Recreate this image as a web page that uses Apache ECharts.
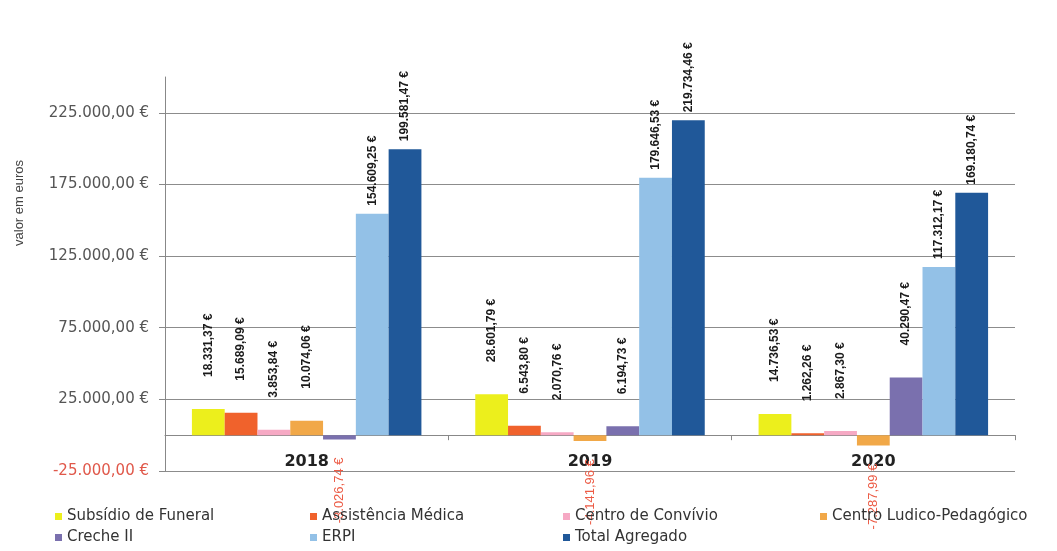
<!DOCTYPE html>
<html>
<head>
<meta charset="utf-8">
<script src="https://cdn.jsdelivr.net/npm/echarts@6/dist/echarts.min.js"></script>
<style>html,body{margin:0;padding:0;background:#fff}#c{width:1057px;height:551px}</style>
</head>
<body>
<div id="c"></div>
<script>
var categories = ['2018', '2019', '2020'];
var seriesNames = ['Subsídio de Funeral', 'Assistência Médica', 'Centro de Convívio', 'Centro Ludico-Pedagógico', 'Creche II', 'ERPI', 'Total Agregado'];
var subsidioFuneral = [18331.37, 28601.79, 14736.53];
var assistenciaMedica = [15689.09, 6543.80, 1262.26];
var centroConvivio = [3853.84, 2070.76, 2867.30];
var centroLudico = [10074.06, -4141.96, -7287.99];
var crecheII = [-3026.74, 6194.73, 40290.47];
var erpi = [154609.25, 179646.53, 117312.17];
var totalAgregado = [199581.47, 219734.46, 169180.74];
var yTicks = [-25000, 25000, 75000, 125000, 175000, 225000];

var seriesValues = [subsidioFuneral, assistenciaMedica, centroConvivio, centroLudico, crecheII, erpi, totalAgregado];
var colors = ['#ecef1c', '#f0622c', '#f6a9c4', '#f1a848', '#7a70ae', '#93c1e7', '#205899'];

function fmt(v, dec) {
  var neg = v < 0; v = Math.abs(v);
  var s = v.toFixed(dec);
  var parts = s.split('.');
  var int = parts[0].replace(/\B(?=(\d{3})+(?!\d))/g, '.');
  return (neg ? '-' : '') + int + (dec ? ',' + parts[1] : '') + ' €';
}

var series = seriesNames.map(function (name, i) {
  return {
    name: name,
    type: 'bar',
    barGap: '0%',
    barCategoryGap: '19%',
    itemStyle: { color: colors[i] },
    data: seriesValues[i].map(function (v) {
      if (v < 0) {
        return { value: v, label: { position: 'bottom', align: 'right', distance: 18, color: '#ec5b45', fontWeight: 'normal', fontSize: 13 } };
      }
      return { value: v, label: { distance: v > 100000 ? 8 : 32 } };
    }),
    label: {
      show: true,
      position: 'top',
      rotate: 90,
      align: 'left',
      verticalAlign: 'middle',
      fontFamily: 'Liberation Sans',
      fontSize: 12,
      fontWeight: 'bold',
      color: '#1a1a1a',
      formatter: function (p) { return fmt(p.value, 2); }
    }
  };
});

var splitColors = yTicks.map(function () { return '#8c8c8c'; });
splitColors.push('rgba(0,0,0,0)');

var legendCols = [[0, 4], [1, 5], [2, 6], [3]];
var legendLeft = [50, 305, 558, 815];
var legends = legendCols.map(function (col, k) {
  return {
    orient: 'vertical',
    left: legendLeft[k],
    top: 504,
    itemWidth: 7,
    itemHeight: 7,
    itemGap: 6,
    icon: 'rect',
    data: col.map(function (i) { return seriesNames[i]; }),
    textStyle: { fontFamily: 'DejaVu Sans', fontSize: 15, color: '#333' }
  };
});

var chart = echarts.init(document.getElementById('c'));
chart.setOption({
  animation: false,
  backgroundColor: '#fff',
  grid: { left: 165, right: 42, top: 77, bottom: 80 },
  legend: legends,
  graphic: [{
    type: 'text',
    left: 13,
    top: 160,
    rotation: Math.PI / 2,
    style: { text: 'valor em euros', fontFamily: 'Liberation Sans', fontSize: 13, fill: '#444' }
  }],
  xAxis: {
    type: 'category',
    data: categories,
    axisLine: { onZero: true, lineStyle: { color: '#888' } },
    axisTick: { show: true, length: 5, lineStyle: { color: '#888' } },
    axisLabel: { margin: -17, fontFamily: 'DejaVu Sans', fontSize: 16, fontWeight: 'bold', color: '#222' }
  },
  yAxis: {
    type: 'value',
    min: -25000,
    max: 250000,
    interval: 50000,
    axisLine: { show: true, lineStyle: { color: '#888' } },
    axisTick: { show: true, length: 6, lineStyle: { color: '#888' } },
    splitLine: { show: true, lineStyle: { color: splitColors, width: 1 } },
    axisLabel: {
      showMaxLabel: false,
      margin: 16,
      fontFamily: 'DejaVu Sans',
      fontSize: 15,
      color: function (v) { return v < 0 ? '#e0584a' : '#555'; },
      formatter: function (v) { return v >= 250000 ? '' : fmt(v, 2); }
    }
  },
  series: series
});
</script>
</body>
</html>
